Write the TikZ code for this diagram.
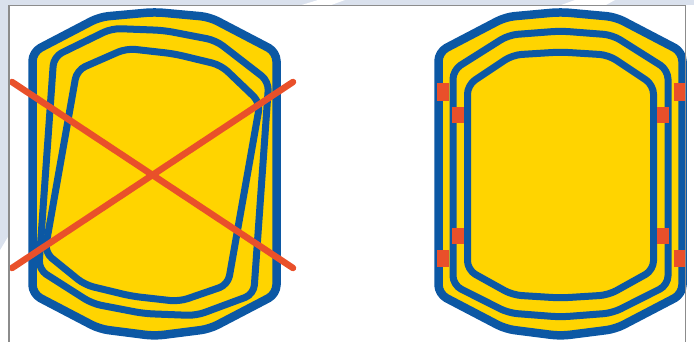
\documentclass[tikz,border=0pt]{standalone}
\definecolor{rblue}{RGB}{12,88,164}
\definecolor{ryel}{RGB}{255,212,0}
\definecolor{rred}{RGB}{233,80,42}
\definecolor{rframe}{RGB}{140,140,140}
\definecolor{rwm}{RGB}{218,225,237}
\newcommand\outerpath{(-122,0) -- (-122,-122) -- (-55,-157) -- (0,-162) -- (55,-157) -- (122,-122) -- (122,120) -- (55,155) -- (0,162) -- (-55,155) -- (-122,120) -- cycle}
\newcommand\middlepath{(-107.5,0) -- (-107.5,-104) -- (-52,-139) -- (0,-143) -- (52,-139) -- (107.5,-104) -- (107.5,111) -- (52,139) -- (0,143) -- (-52,139) -- (-107.5,111) -- cycle}
\newcommand\innerpath{(-93,0) -- (-93,-89) -- (-48,-119) -- (0,-122) -- (48,-119) -- (93,-89) -- (93,96) -- (48,121) -- (0,124) -- (-48,121) -- (-93,96) -- cycle}
\tikzset{
  ringline/.style={draw=rblue, line width=7pt, line join=round, rounded corners=9pt},
  outerline/.style={ringline, line width=8.5pt, fill=ryel},
  crossline/.style={draw=rred, line width=6.5pt, line cap=round},
  redmark/.style={fill=rred},
  framel/.style={draw=rframe, line width=1.2pt},
}
\begin{document}
\begin{tikzpicture}[x=1pt,y=-1pt]
\useasboundingbox (0,0) rectangle (694,342);
% watermark outside frame
\fill[rwm] (0,0) rectangle (694,5.5);
\fill[rwm] (0,0) -- (9,0) -- (9,235) -- (0,250) -- cycle;
\fill[white] (300,5.5) -- (318,0) -- (345,0) -- (330,5.5) -- cycle;
\fill[white] (560,5.5) -- (575,0) -- (615,0) -- (605,5.5) -- cycle;
% left shape
\begin{scope}[shift={(154.5,174)}]
  \path[outerline] \outerpath;
\end{scope}
\begin{scope}[shift={(154,172)}, x={(1pt,-0.115pt)}, y={(-0.07pt,-0.99pt)}]
  \path[ringline] \middlepath;
\end{scope}
\begin{scope}[shift={(153,174)}, x={(0.985pt,-0.174pt)}, y={(-0.174pt,-0.985pt)}]
  \path[ringline] \innerpath;
\end{scope}
\coordinate (c1) at (12,82);
\coordinate (c2) at (293,268);
\coordinate (c3) at (12,268);
\coordinate (c4) at (293,82);
\draw[crossline] (c1) -- (c2);
\draw[crossline] (c3) -- (c4);
% right shape
\begin{scope}[shift={(560.5,174)}]
  \path[outerline] \outerpath;
  \path[ringline] \middlepath;
  \path[ringline] \innerpath;
\end{scope}
\fill[redmark] (437,83) rectangle (449,101);
\fill[redmark] (437,250) rectangle (449,267);
\fill[redmark] (452,107) rectangle (464,123);
\fill[redmark] (452,228) rectangle (464,244);
\fill[redmark] (657,107) rectangle (669,123);
\fill[redmark] (657,228) rectangle (669,244);
\fill[redmark] (674,83) rectangle (686,101);
\fill[redmark] (674,250) rectangle (686,267);
% frame
\draw[framel] (9,342) -- (9,5.5) -- (685.5,5.5) -- (685.5,342);
\end{tikzpicture}
\end{document}
